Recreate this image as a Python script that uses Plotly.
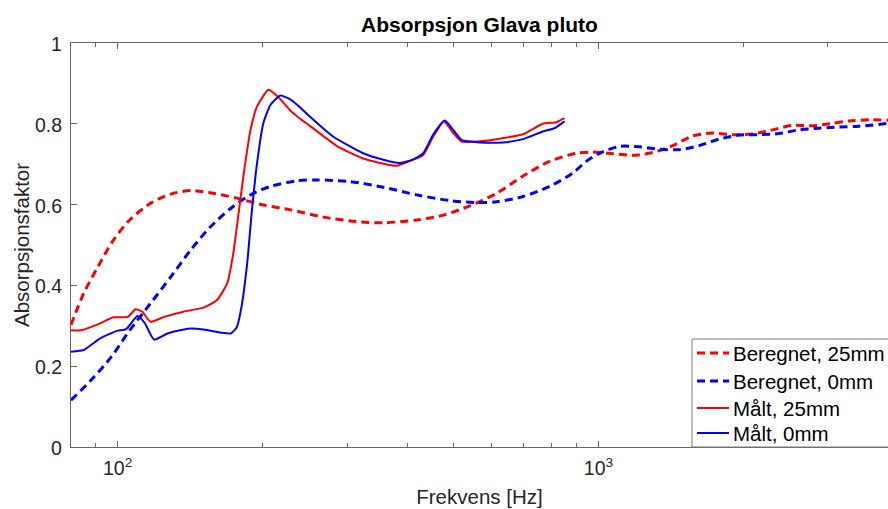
import numpy as np
import plotly.graph_objects as go

# ---- Data ----
# Beregnet, 25mm (red dashed)
f_ber25 = [80, 85, 91, 98, 106, 117, 129, 142, 158, 177, 201, 229, 268, 314, 357, 419, 476, 540,
           614, 697, 791, 899, 973, 1071, 1178, 1297, 1427, 1570, 1727, 1900, 2090, 2299, 2530,
           2783, 3063, 3317, 3700, 4000]
a_ber25 = [0.302, 0.380, 0.446, 0.512, 0.562, 0.603, 0.626, 0.635, 0.628, 0.616, 0.599, 0.587,
           0.569, 0.558, 0.555, 0.562, 0.574, 0.597, 0.628, 0.671, 0.707, 0.727, 0.730, 0.726,
           0.722, 0.729, 0.746, 0.770, 0.777, 0.773, 0.775, 0.785, 0.796, 0.795, 0.801, 0.807,
           0.810, 0.809]

# Beregnet, 0mm (blue dashed)
f_ber0 = [80, 88, 97, 106, 117, 129, 142, 156, 172, 189, 208, 236, 260, 304, 357, 419, 491, 558,
          614, 697, 791, 884, 943, 1005, 1106, 1216, 1338, 1472, 1620, 1782, 1961, 2158, 2374,
          2612, 2873, 3162, 3480, 4000]
a_ber0 = [0.116, 0.165, 0.223, 0.289, 0.355, 0.421, 0.488, 0.545, 0.591, 0.624, 0.645, 0.659,
          0.661, 0.657, 0.643, 0.624, 0.610, 0.605, 0.607, 0.620, 0.645, 0.678, 0.707, 0.727,
          0.744, 0.743, 0.737, 0.736, 0.746, 0.762, 0.772, 0.773, 0.776, 0.785, 0.789, 0.792,
          0.794, 0.801]

# Målt, 25mm (red solid)
f_malt25 = [80, 84, 92, 98, 105, 109, 112.5, 117, 125, 137, 151, 161, 169, 174, 178.5, 183, 189,
            195, 206, 218, 229, 240, 251, 286, 324, 368, 380, 405, 432, 453, 477, 499, 519, 558,
            614, 697, 766, 817, 850]
a_malt25 = [0.289, 0.289, 0.306, 0.321, 0.322, 0.341, 0.335, 0.310, 0.322, 0.335, 0.345, 0.364,
            0.405, 0.479, 0.579, 0.678, 0.785, 0.843, 0.884, 0.861, 0.832, 0.812, 0.795, 0.745,
            0.714, 0.698, 0.696, 0.708, 0.723, 0.768, 0.806, 0.777, 0.756, 0.756, 0.762, 0.774,
            0.800, 0.804, 0.814]

# Målt, 0mm (blue solid)
f_malt0 = [80, 85, 92, 100, 104, 110, 114, 119, 127, 140, 151, 164, 172, 177, 181, 186, 190,
           195, 201, 208, 218, 229, 240, 251, 281, 324, 357, 386, 412, 432, 453, 479, 499, 519,
           566, 633, 697, 766, 810, 850]
a_malt0 = [0.236, 0.240, 0.269, 0.288, 0.291, 0.324, 0.306, 0.266, 0.281, 0.293, 0.291, 0.283,
           0.281, 0.297, 0.347, 0.455, 0.579, 0.703, 0.802, 0.847, 0.870, 0.860, 0.840, 0.818,
           0.768, 0.727, 0.711, 0.703, 0.712, 0.727, 0.773, 0.808, 0.785, 0.760, 0.754, 0.754,
           0.762, 0.781, 0.789, 0.806]

series_names = ["Beregnet, 25mm", "Beregnet, 0mm", "Målt, 25mm", "Målt, 0mm"]

y_ticks = [0, 0.2, 0.4, 0.6, 0.8, 1]
y_tick_labels = ["0", "0.2", "0.4", "0.6", "0.8", "1"]
x_major = [100, 1000]
x_major_labels = ["10<sup>2</sup>", "10<sup>3</sup>"]
x_minor = [80, 90, 200, 300, 400, 500, 600, 700, 800, 900, 2000, 3000, 4000]

RED = "rgb(255,0,0)"
BLUE = "rgb(0,0,255)"
FONT = "Liberation Sans, Arial, Helvetica, sans-serif"
TXT = "#262626"
AX = "#666666"
DASH = "8px,5px"

styles = [
    dict(color=RED, width=3, dash=DASH),
    dict(color=BLUE, width=3, dash=DASH),
    dict(color=RED, width=2),
    dict(color=BLUE, width=2),
]
data = [(f_ber25, a_ber25), (f_ber0, a_ber0), (f_malt25, a_malt25), (f_malt0, a_malt0)]

fig = go.Figure()
for (fx, ay), name, st in zip(data, series_names, styles):
    sm = 0.8 if st.get("dash") else 0.5
    fig.add_trace(go.Scatter(x=fx, y=ay, mode="lines", name=name, showlegend=False,
                             line=dict(shape="spline", smoothing=sm, **st)))

# ---- layout geometry (pixels) ----
W, H = 888, 509
ML, MR, MT, MB = 71, 0, 43, 62
PW, PH = W - ML - MR, H - MT - MB

def px_to_paper_x(px):
    return (px - ML) / PW

def px_to_paper_y(py):
    return (H - MB - py) / PH

annotations = []
# y tick labels
for v, lab in zip(y_ticks, y_tick_labels):
    annotations.append(dict(x=0, xref="paper", y=v, yref="y", text=lab, showarrow=False,
                            xanchor="right", yanchor="middle", xshift=-7, yshift=-1,
                            font=dict(family=FONT, size=19.5, color=TXT)))
# y axis title
annotations.append(dict(x=0, xref="paper", y=0.5, yref="paper", text="Absorpsjonsfaktor",
                        showarrow=False, textangle=-90, xanchor="center", yanchor="middle",
                        xshift=-50, font=dict(family=FONT, size=20.5, color=TXT)))

# manual legend (box, samples, texts)
shapes = []
lg_left, lg_top = 692, 339
shapes.append(dict(type="rect", xref="paper", yref="paper",
                   x0=px_to_paper_x(lg_left), x1=px_to_paper_x(lg_left + 215),
                   y0=0, y1=px_to_paper_y(lg_top),
                   line=dict(color="#7a7a7a", width=1), fillcolor="white", layer="above"))
row_y = [353, 381, 408, 433]
for name, st, ry in zip(series_names, styles, row_y):
    yp = px_to_paper_y(ry)
    shapes.append(dict(type="line", xref="paper", yref="paper",
                       x0=px_to_paper_x(697), x1=px_to_paper_x(729), y0=yp, y1=yp,
                       line=dict(color=st["color"], width=st["width"], dash=st.get("dash", "solid")),
                       layer="above"))
    annotations.append(dict(x=px_to_paper_x(731), xref="paper", y=yp, yref="paper", text=name,
                            showarrow=False, xanchor="left", yanchor="middle", yshift=0,
                            font=dict(family=FONT, size=20.5, color="black")))

fig.update_layout(
    width=W, height=H,
    margin=dict(l=ML, r=MR, t=MT, b=MB),
    paper_bgcolor="white", plot_bgcolor="white",
    font=dict(family=FONT, color=TXT, size=19.5),
    title=dict(text="<b>Absorpsjon Glava pluto</b>", x=0.5, xref="paper", xanchor="center",
               y=1, yref="container", yanchor="top", pad=dict(t=17),
               font=dict(family=FONT, size=21, color="black")),
    showlegend=False,
    shapes=shapes,
    annotations=annotations,
)
fig.update_xaxes(
    type="log", range=[np.log10(80), np.log10(4000)],
    showgrid=False, zeroline=False,
    showline=True, linecolor=AX, linewidth=1, mirror="ticks",
    ticks="inside", ticklen=6, tickcolor=AX,
    tickmode="array", tickvals=x_major, ticktext=x_major_labels,
    ticklabelstandoff=4,
    minor=dict(tickmode="array", tickvals=x_minor, ticks="inside", ticklen=4, tickcolor=AX,
               showgrid=False),
    title=dict(text="Frekvens [Hz]", font=dict(size=20.5, color=TXT), standoff=11),
)
fig.update_yaxes(
    range=[0, 1], showgrid=False, zeroline=False,
    showline=True, linecolor=AX, linewidth=1, mirror=False,
    ticks="inside", ticklen=6, tickcolor=AX,
    tickmode="array", tickvals=y_ticks, showticklabels=False,
)

fig.write_html("out.html", config={"displayModeBar": False},
               post_script="document.body.style.margin='0px';")
